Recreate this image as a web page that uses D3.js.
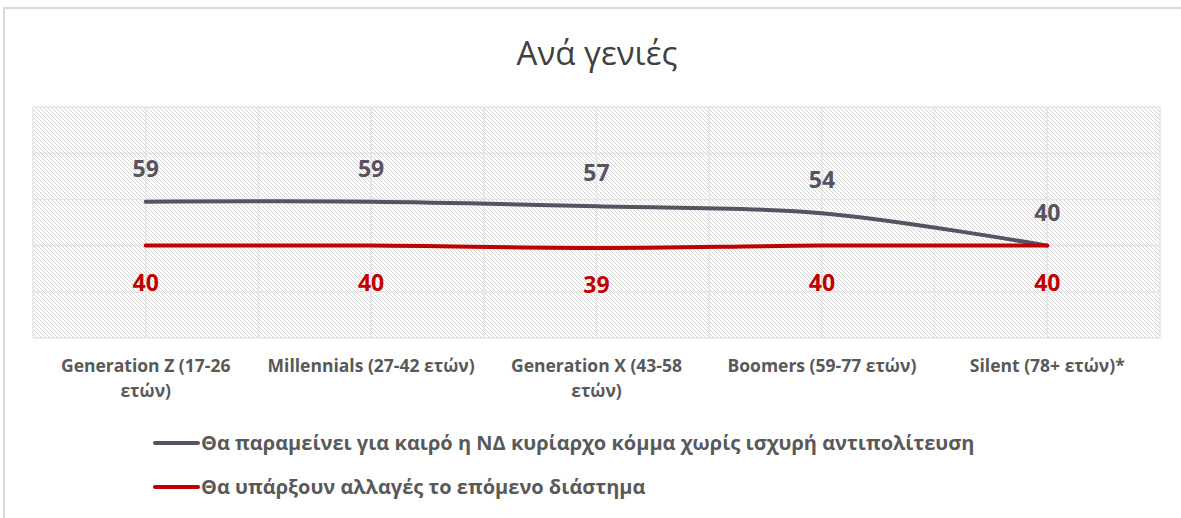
<!DOCTYPE html>
<html>
<head>
<meta charset="utf-8">
<script src="https://cdn.jsdelivr.net/npm/d3@7"></script>
<style>
  body { margin: 0; background: #fff; }
  svg { display: block; font-family: "Open Sans", sans-serif; }
</style>
</head>
<body>
<svg id="chart" width="1181" height="518"></svg>
<script>
'use strict';

// chart data
var categories = ['Generation Z (17-26\nετών)', 'Millennials (27-42 ετών)', 'Generation X (43-58\nετών)', 'Boomers (59-77 ετών)', 'Silent (78+ ετών)*'];
var seriesNames = ['Θα παραμείνει για καιρό η ΝΔ κυρίαρχο κόμμα χωρίς ισχυρή αντιπολίτευση', 'Θα υπάρξουν αλλαγές το επόμενο διάστημα'];
var staysValues = [59, 59, 57, 54, 40];
var changesValues = [40, 40, 39, 40, 40];
var yTicks = [0, 20, 40, 60, 80, 100];
var title = 'Ανά γενιές';

var svg = d3.select('#chart');
var W = 1181, H = 518;
var plot = { left: 33, right: 1160, top: 107, bottom: 338 };

var colors = ['#5a5262', '#c00000'];

// outer frame
svg.append('path')
    .attr('d', 'M4,' + H + 'V8H' + W)
    .attr('fill', 'none')
    .attr('stroke', '#d9d9d9')
    .attr('stroke-width', 2);

// title
svg.append('text')
    .attr('x', 597).attr('y', 65)
    .attr('text-anchor', 'middle')
    .attr('font-size', 33)
    .attr('fill', '#404040')
    .text(title);

// scales
var xBand = d3.scaleBand().domain(d3.range(categories.length)).range([plot.left, plot.right]);
var x = function(i) { return xBand(i) + xBand.bandwidth() / 2; };
var y = d3.scaleLinear().domain([0, 100]).range([plot.bottom, plot.top]);

// hatched plot background
var defs = svg.append('defs');
var pat = defs.append('pattern')
    .attr('id', 'hatch')
    .attr('patternUnits', 'userSpaceOnUse')
    .attr('width', 4).attr('height', 4);
pat.append('rect').attr('width', 4).attr('height', 4).attr('fill', '#fff');
d3.range(4).forEach(function(k) {
  pat.append('rect').attr('x', k).attr('y', k).attr('width', 1).attr('height', 1).attr('fill', '#d4d4d4');
});

svg.append('rect')
    .attr('x', plot.left).attr('y', plot.top)
    .attr('width', plot.right - plot.left).attr('height', plot.bottom - plot.top)
    .attr('fill', 'url(#hatch)');

// gridlines
var grid = svg.append('g').attr('stroke', '#e4e4e4').attr('stroke-width', 1.5);
grid.selectAll('line.h').data(yTicks).enter().append('line')
    .attr('x1', plot.left).attr('x2', plot.right)
    .attr('y1', function(d) { return y(d); }).attr('y2', function(d) { return y(d); });

var vx = [];
categories.forEach(function(c, i) { vx.push(xBand(i)); vx.push(x(i)); });
vx.push(plot.right);
grid.selectAll('line.v').data(vx).enter().append('line')
    .attr('y1', plot.top).attr('y2', plot.bottom)
    .attr('x1', function(d) { return d; }).attr('x2', function(d) { return d; });

// lines (excel style smoothing)
var line = d3.line()
    .x(function(d, i) { return x(i); })
    .y(function(d) { return y(d); })
    .curve(d3.curveCardinal.tension(0));

[staysValues, changesValues].forEach(function(vals, s) {
  svg.append('path')
      .datum(vals)
      .attr('d', line)
      .attr('fill', 'none')
      .attr('stroke', colors[s])
      .attr('stroke-width', 4)
      .attr('stroke-linecap', 'round');
});

// data labels
svg.append('g').selectAll('text').data(staysValues).enter().append('text')
    .attr('x', function(d, i) { return x(i); })
    .attr('y', function(d) { return y(d) - 25; })
    .attr('text-anchor', 'middle')
    .attr('font-size', 23).attr('font-weight', 'bold')
    .attr('fill', '#595260')
    .text(function(d) { return d; });

svg.append('g').selectAll('text').data(changesValues).enter().append('text')
    .attr('x', function(d, i) { return x(i); })
    .attr('y', function(d) { return y(d) + 45; })
    .attr('text-anchor', 'middle')
    .attr('font-size', 23).attr('font-weight', 'bold')
    .attr('fill', '#c00000')
    .text(function(d) { return d; });

// category labels
var cat = svg.append('g').selectAll('text').data(categories).enter().append('text')
    .attr('text-anchor', 'middle')
    .attr('font-size', 17.5).attr('font-weight', 'bold')
    .attr('fill', '#595959');
cat.each(function(d, i) {
  var t = d3.select(this);
  d.split('\n').forEach(function(str, k) {
    t.append('tspan').attr('x', x(i)).attr('y', 372 + 25 * k).text(str);
  });
});

// legend
var legendY = [443, 487];
var leg = svg.append('g').selectAll('g').data(seriesNames).enter().append('g');
leg.append('line')
    .attr('x1', 155).attr('x2', 198)
    .attr('y1', function(d, i) { return legendY[i]; })
    .attr('y2', function(d, i) { return legendY[i]; })
    .attr('stroke', function(d, i) { return colors[i]; })
    .attr('stroke-width', 4)
    .attr('stroke-linecap', 'round');
leg.append('text')
    .attr('x', 201)
    .attr('y', function(d, i) { return legendY[i] + 7; })
    .attr('font-size', 20).attr('font-weight', 'bold')
    .attr('fill', '#595959')
    .text(function(d) { return d; });
</script>
</body>
</html>
